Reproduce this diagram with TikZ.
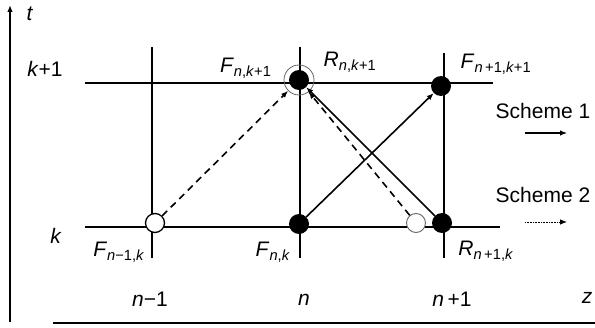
\documentclass[tikz,border=0pt]{standalone}
\usepackage{fontspec}
\setmainfont{Liberation Sans}
\usetikzlibrary{arrows.meta, positioning}
\newcommand{\sbs}[2]{\textit{#1}\textsubscript{#2}}

\begin{document}
\begin{tikzpicture}[x=1pt, y=1pt, >={Latex[length=7pt, width=5.5pt]},
    font=\fontsize{21}{25}\selectfont,
    grid/.style={line width=2pt},
    axis/.style={line width=2pt},
    dot/.style={circle, fill=black, inner sep=0pt, minimum size=20pt},
    hole/.style={circle, draw=black, fill=white, line width=1.3pt, inner sep=0pt, minimum size=19pt},
    ring/.style={circle, draw=black!60, line width=0.8pt, inner sep=0pt, minimum size=30pt},
    scheme1/.style={->, line width=1.6pt},
    scheme2/.style={->, line width=1.6pt, dash pattern=on 7pt off 5pt}]
  \useasboundingbox (0,0) rectangle (595,327);
  % axes
  \coordinate (t0) at (10,5);
  \coordinate (t1) at (10,322);
  \coordinate (z0) at (53,4);
  \coordinate (z1) at (600,4);
  \draw[axis, ->] (t0) -- (t1);
  \draw[axis] (z0) -- (z1);
  \node at (30,313) {\textit{t}};
  \node at (587,29) {\textit{z}};
  % grid
  \draw[grid] (85,244) -- (493,244);
  \draw[grid] (85,100) -- (500,100);
  \draw[grid] (152,280) -- (152,69);
  \draw[grid] (300,280) -- (300,69);
  \draw[grid] (444,274) -- (444,69);
  % points
  \node[ring] (ring) at (299,247) {};
  \node[dot] (Rnk1) at (299,247) {};
  \node[dot] (Fn1k1) at (441,241) {};
  \node[dot] (Fnk) at (299,103) {};
  \node[dot] (Rn1k) at (442,104) {};
  \node[hole] (Fmk) at (155,104) {};
  \node[hole, draw=black!60, line width=0.9pt] (Gk) at (416,104) {};
  % connectors
  \draw[scheme2] (Fmk) -- (ring);
  \draw[scheme2] (Gk) -- (ring);
  \draw[scheme1] (Fnk) -- (Fn1k1);
  \draw[scheme1] (Rn1k) -- (Rnk1);
  % labels
  \node at (45,258) {\textit{k}+1};
  \node at (56,91) {\textit{k}};
  \node[anchor=east] at (275,259) {\sbs{F}{\textit{n},\textit{k}+1}};
  \node at (350,265) {\sbs{R}{\textit{n},\textit{k}+1}};
  \node at (496,263) {\sbs{F}{\textit{n}\,+1,\textit{k}+1}};
  \node at (119,75) {\sbs{F}{\textit{n}−1,\textit{k}}};
  \node at (273,75) {\sbs{F}{\textit{n},\textit{k}}};
  \node at (486,76) {\sbs{R}{\textit{n}\,+1,\textit{k}}};
  \node at (150,28) {\textit{n}−1};
  \node at (304,27) {\textit{n}};
  \node at (452,28) {\textit{n}\,+1};
  % legend
  \node (s1) at (543,216) {Scheme 1};
  \node (s2) at (543,132) {Scheme 2};
  \coordinate (s1a) at (525,194);
  \coordinate (s1b) at (567,194);
  \coordinate (s2a) at (525,105);
  \coordinate (s2b) at (567,105);
  \draw[->, line width=1.1pt] (s1a) -- (s1b);
  \draw[->, line width=0.8pt, dash pattern=on 0.8pt off 0.8pt] (s2a) -- (s2b);
\end{tikzpicture}
\end{document}
